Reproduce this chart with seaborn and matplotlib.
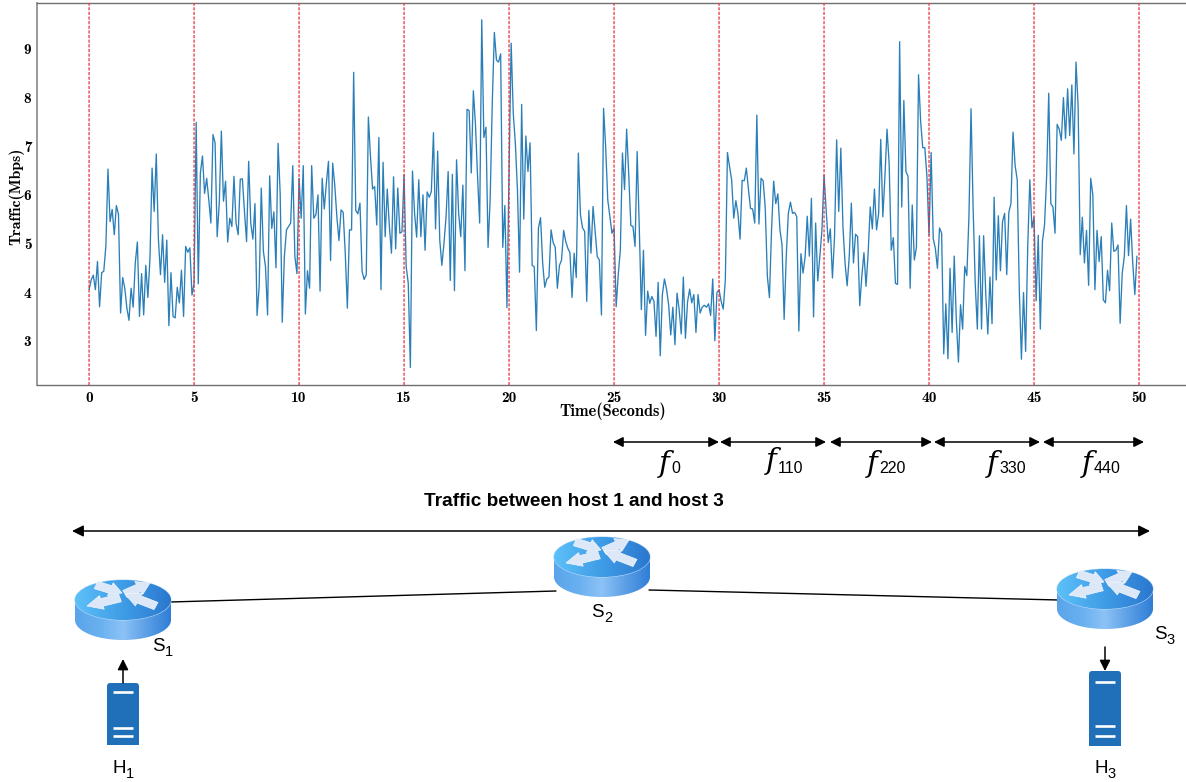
# traffic_windows.py
import numpy as np
import pandas as pd
import matplotlib
matplotlib.use('Agg')
import matplotlib.pyplot as plt
import seaborn as sns
from matplotlib.patches import Ellipse, Polygon, FancyBboxPatch, Rectangle

# traffic, one list per 5 second stretch, 0.1 s apart
traffic_00 = [4.05, 4.25, 4.35, 4.05, 4.63, 3.70, 4.40, 4.43, 4.95, 6.53,
              5.45, 5.70, 5.18, 5.78, 5.60, 3.57, 4.30, 4.08, 3.67, 3.42,
              4.08, 3.69, 4.60, 5.03, 3.50, 4.38, 3.53, 4.55, 3.89, 4.70,
              6.55, 5.66, 6.84, 5.10, 4.36, 5.18, 4.20, 5.07, 3.31, 4.40,
              3.50, 3.47, 4.10, 3.78, 4.45, 3.50, 4.94, 4.82, 4.91, 3.94]
traffic_05 = [4.18, 7.49, 4.17, 6.45, 6.80, 6.03, 6.34, 5.90, 5.42, 7.24,
              7.07, 5.14, 5.83, 7.31, 5.87, 6.28, 5.03, 5.52, 5.35, 6.38,
              5.42, 5.18, 6.32, 6.33, 5.66, 5.04, 6.69, 5.42, 5.09, 5.82,
              3.52, 4.12, 6.14, 4.84, 4.53, 3.53, 6.39, 5.31, 5.65, 4.50,
              7.06, 6.03, 3.38, 4.73, 5.28, 5.35, 5.42, 6.60, 4.73, 4.38]
traffic_10 = [6.34, 5.52, 6.60, 3.55, 4.44, 4.08, 6.60, 5.52, 5.59, 6.00,
              4.02, 6.34, 5.71, 6.24, 6.69, 4.65, 6.65, 6.20, 5.55, 5.06,
              5.69, 5.64, 4.80, 3.67, 5.28, 5.28, 8.52, 5.68, 5.61, 5.83,
              4.43, 4.26, 4.36, 7.60, 6.79, 6.12, 6.17, 5.38, 7.18, 4.05,
              6.67, 5.14, 6.12, 5.35, 4.80, 6.37, 4.89, 6.14, 5.21, 5.24]
traffic_15 = [6.41, 4.53, 4.18, 2.45, 6.49, 5.62, 5.13, 6.31, 5.14, 6.00,
              4.86, 6.06, 5.95, 6.07, 7.28, 5.30, 6.90, 5.07, 4.55, 5.00,
              5.55, 6.48, 4.24, 6.42, 4.03, 6.72, 5.62, 5.14, 6.20, 4.44,
              7.76, 7.73, 6.45, 8.14, 7.45, 6.38, 5.42, 9.60, 7.18, 7.39,
              4.92, 5.90, 7.88, 9.34, 8.77, 8.73, 8.90, 4.92, 5.78, 3.68]
traffic_20 = [6.50, 9.12, 7.68, 7.06, 6.10, 4.41, 7.86, 5.50, 7.21, 6.48,
              7.07, 4.55, 4.52, 3.21, 5.32, 5.53, 4.60, 4.10, 4.27, 4.31,
              5.28, 5.02, 4.92, 4.08, 4.55, 4.66, 5.27, 5.04, 4.90, 4.81,
              3.89, 4.80, 4.30, 6.86, 5.59, 5.32, 5.25, 3.81, 5.68, 4.80,
              5.76, 5.25, 4.73, 4.66, 3.53, 7.78, 6.99, 5.90, 5.55, 5.21]
traffic_25 = [5.32, 3.70, 4.36, 4.87, 6.86, 6.11, 7.35, 6.41, 5.37, 5.35,
              4.94, 6.89, 5.35, 3.64, 4.86, 3.11, 4.02, 3.77, 3.91, 3.81,
              3.09, 4.20, 2.69, 3.95, 4.27, 4.06, 3.74, 3.12, 3.69, 2.92,
              3.98, 3.64, 3.14, 4.31, 3.05, 3.80, 4.06, 3.78, 3.95, 3.17,
              3.95, 3.57, 3.69, 3.73, 3.69, 3.76, 3.52, 4.27, 3.00, 3.99]
traffic_30 = [4.05, 3.81, 3.65, 4.26, 6.87, 6.58, 6.31, 5.52, 5.88, 5.62,
              5.09, 6.30, 6.29, 6.55, 6.11, 5.72, 5.71, 5.42, 7.64, 5.40,
              6.34, 6.29, 5.73, 4.33, 3.89, 5.28, 6.28, 5.82, 6.02, 5.28,
              4.97, 3.44, 4.73, 5.62, 5.85, 5.62, 5.64, 5.55, 3.20, 4.79,
              4.39, 4.73, 5.56, 4.74, 5.93, 3.49, 5.42, 4.23, 4.73, 5.28]
traffic_35 = [6.41, 5.69, 5.02, 5.30, 4.29, 5.14, 7.13, 5.66, 6.96, 5.35,
              4.60, 4.13, 4.73, 5.83, 4.60, 5.19, 5.14, 3.72, 4.33, 4.81,
              4.12, 4.80, 5.75, 5.30, 6.12, 5.28, 5.62, 7.14, 5.55, 6.38,
              7.35, 6.65, 4.86, 5.12, 4.18, 4.16, 9.15, 5.75, 7.94, 6.48,
              6.38, 4.08, 5.79, 4.66, 4.92, 8.47, 7.51, 6.97, 6.97, 6.38]
traffic_40 = [5.17, 6.87, 5.10, 4.90, 4.49, 5.32, 5.21, 2.73, 3.76, 2.63,
              4.49, 3.17, 4.74, 3.43, 2.56, 3.74, 3.24, 4.53, 4.34, 5.55,
              7.77, 5.72, 4.18, 3.24, 5.16, 3.24, 5.16, 3.98, 3.14, 4.31,
              3.35, 5.95, 4.25, 5.57, 4.44, 5.45, 5.62, 4.36, 5.64, 5.82,
              7.29, 6.60, 6.31, 4.01, 2.62, 3.99, 2.78, 4.94, 6.31, 5.32]
traffic_45 = [5.54, 3.82, 5.17, 3.24, 5.04, 5.38, 6.38, 8.09, 5.82, 5.75,
              5.21, 7.45, 7.35, 7.12, 8.00, 7.16, 8.18, 7.22, 8.26, 6.84,
              8.73, 7.82, 4.77, 5.54, 4.60, 5.27, 4.14, 6.34, 6.00, 4.05,
              5.27, 4.63, 5.14, 3.84, 3.78, 4.45, 4.03, 5.42, 4.84, 4.86,
              4.97, 3.36, 4.39, 4.73, 5.78, 4.75, 5.50, 4.60, 3.95, 4.74]

window_marks = [0, 5, 10, 15, 20, 25, 30, 35, 40, 45, 50]
y_ticks = [3, 4, 5, 6, 7, 8, 9]
flow_names = ['0', '110', '220', '330', '440']

W, H = 1186, 782
BLUE = '#2b7fb8'


def router_arrow(ax, cx, cy, tail, tip):
    # flat arrow lying on the top face, squashed in y for the perspective
    tail, tip = np.array(tail, float), np.array(tip, float)
    d = tip - tail
    n = np.array([-d[1], d[0]]) / np.hypot(*d)
    n[1] *= 0.7
    neck = tip - d * 0.45
    pts = [tail + n * 5.5, neck + n * 5.5, neck + n * 10, tip, neck - n * 10, neck - n * 5.5, tail - n * 5.5]
    ax.add_patch(Polygon([(cx + p[0], cy + p[1]) for p in pts], closed=True,
                         fc='#dce8f8', ec='#f4f7fd', lw=0.5, zorder=4))


def router(ax, cx, cy):
    # puck shape: side band first, then the top face, both with a left-right gradient
    w, h, depth = 96, 40, 20
    t = np.linspace(np.pi, 0, 60)
    top_x = cx + w / 2 * np.cos(t)
    top_y = cy - h / 2 * np.sin(t)
    low_x = cx + w / 2 * np.cos(t[::-1])
    low_y = cy + depth + h / 2 * np.sin(t[::-1])
    verts = np.column_stack([np.r_[top_x, low_x], np.r_[top_y, low_y]])
    body = Polygon(verts, closed=True, fc='none', ec='none', transform=ax.transData)
    ax.add_patch(body)
    side = matplotlib.colors.LinearSegmentedColormap.from_list(
        'side', ['#5aa4ea', '#68b0f0', '#8cc2f6', '#5c9fe6', '#2f7fd6'])
    im = ax.imshow(np.linspace(0, 1, 96)[None, :], cmap=side, aspect='auto', zorder=2,
                   extent=(cx - w / 2, cx + w / 2, cy + depth + h / 2, cy - h / 2))
    im.set_clip_path(body)
    face = Ellipse((cx, cy), w, h, fc='none', ec='#b9dbf8', lw=0.8, zorder=3)
    ax.add_patch(face)
    top = matplotlib.colors.LinearSegmentedColormap.from_list(
        'top', ['#5cc0f8', '#3f9ce6', '#2b78cf'])
    im2 = ax.imshow(np.linspace(0, 1, 96)[None, :], cmap=top, aspect='auto', zorder=3,
                    extent=(cx - w / 2, cx + w / 2, cy + h / 2, cy - h / 2))
    im2.set_clip_path(face)
    router_arrow(ax, cx, cy, (-27, -15), (-1, -7))
    router_arrow(ax, cx, cy, (-3, -2), (-36, 6))
    router_arrow(ax, cx, cy, (2, -6), (27, -17))
    router_arrow(ax, cx, cy, (33, 6), (2, -6))
    ax.set_xlim(0, W)
    ax.set_ylim(H, 0)


def host(ax, left, top, right, bottom, bars):
    ax.add_patch(FancyBboxPatch((left + 2, top + 2), right - left - 4, bottom - top, zorder=2,
                                boxstyle='round,pad=2,rounding_size=3', fc='#1f70b8', ec='none'))
    ax.add_patch(Rectangle((left - 1, bottom), right - left + 2, 8, fc='white', ec='none', zorder=3))
    for y in bars:
        ax.plot([left + 6, right - 6], [y, y], color='white', lw=1.9, zorder=4,
                solid_capstyle='butt')


def arrow(ax, x0, y0, x1, y1, style='-|>', ms=16):
    ax.annotate('', xy=(x1, y1), xytext=(x0, y0), zorder=5,
                arrowprops=dict(arrowstyle=style, color='black', lw=1.1, mutation_scale=ms,
                                shrinkA=0, shrinkB=0))


def sub_label(ax, x, y, main, sub, size=13.5, sub_size=10.5):
    ax.text(x, y, main, fontsize=size, family='Liberation Sans', ha='left', va='baseline')
    ax.text(x + size * 0.95 * (1.0 if main == 'S' else 1.06), y + 5, sub, fontsize=sub_size,
            family='Liberation Sans', ha='left', va='baseline')


def flow_label(ax, x, y, name):
    ax.text(x, y, 'f', fontsize=21, style='italic', family='DejaVu Serif', ha='center',
            va='baseline')
    ax.text(x + 7, 473, name, fontsize=11.5, family='Liberation Sans', ha='left', va='baseline')


def main():
    sns.set_style('white')
    plt.rcParams['text.color'] = 'black'
    plt.rcParams['axes.labelcolor'] = 'black'
    plt.rcParams['xtick.color'] = 'black'
    plt.rcParams['ytick.color'] = 'black'
    traffic = (traffic_00 + traffic_05 + traffic_10 + traffic_15 + traffic_20
               + traffic_25 + traffic_30 + traffic_35 + traffic_40 + traffic_45)
    df = pd.DataFrame({'time': np.arange(len(traffic)) / 10, 'traffic': traffic})

    fig = plt.figure(figsize=(W / 100, H / 100), dpi=100)
    ax = fig.add_axes([37 / W, 1 - 385 / H, 1152 / W, 382 / H])
    sns.lineplot(data=df, x='time', y='traffic', ax=ax, color=BLUE, linewidth=0.95)
    for m in window_marks:
        ax.axvline(m, color='#e8323c', linestyle=(0, (2.5, 1.2)), linewidth=0.9, zorder=3,
                   snap=False)
    ax.set_xlim(-2.48, 52.38)
    ax.set_ylim(2.09, 9.945)
    ax.set_xticks(window_marks)
    ax.set_yticks(y_ticks)
    ax.tick_params(length=2, width=0.8, color='#808080', pad=2)
    for lab in ax.get_xticklabels() + ax.get_yticklabels():
        lab.set_family('cmb10')
        lab.set_fontsize(11)
    ax.set_xlabel('Time(Seconds)', family='cmb10', fontsize=11.8)
    ax.set_ylabel('Traffic(Mbps)', family='cmb10', fontsize=11.4)
    ax.yaxis.set_label_coords((17 - 37) / 1152, (385 - 196) / 382)
    ax.xaxis.set_label_coords((613 - 37) / 1152, (385 - 403) / 382)
    ax.xaxis.label.set_verticalalignment('top')
    ax.yaxis.label.set_verticalalignment('center')
    for s in ax.spines.values():
        s.set_color('#707070')
        s.set_linewidth(1.0)
    ax.spines['left'].set_color('#9a9a9a')
    ax.spines['left'].set_linewidth(1.4)

    # network sketch below the chart, in pixel coordinates of the picture
    dg = fig.add_axes([0, 0, 1, 1], facecolor='none')
    dg.set_axis_off()
    dg.set_xlim(0, W)
    dg.set_ylim(H, 0)

    for x0, x1 in [(613, 719), (720, 826), (830, 932), (934, 1040), (1043, 1144)]:
        arrow(dg, x0, 442, x1, 442, style='<|-|>', ms=15)
    for x, y, name in zip([664, 771, 872, 992, 1087], [472, 469, 472, 472, 472], flow_names):
        flow_label(dg, x, y, name)
    dg.text(574, 501, 'Traffic between host 1 and host 3', fontsize=13.7, fontweight='bold',
            family='Liberation Sans', ha='center', va='center')
    arrow(dg, 72, 531, 1150, 531, style='<|-|>', ms=17)

    dg.plot([170, 556], [602, 591], color='black', lw=1.0, zorder=1)
    dg.plot([649, 1059], [590, 600], color='black', lw=1.0, zorder=1)
    router(dg, 123, 600)
    router(dg, 602, 557)
    router(dg, 1105, 589)

    host(dg, 107, 683, 139, 745, [692, 728, 736])
    host(dg, 1089, 671, 1121, 746, [682, 726, 736])
    arrow(dg, 123, 683, 123, 659)
    arrow(dg, 1105, 647, 1105, 671)

    sub_label(dg, 152, 651, 'S', '1')
    sub_label(dg, 591, 617, 'S', '2')
    sub_label(dg, 1154, 639, 'S', '3')
    sub_label(dg, 112, 773, 'H', '1')
    sub_label(dg, 1094, 773, 'H', '3')

    fig.savefig('out.png', dpi=100)
    plt.close(fig)


if __name__ == '__main__':
    main()
